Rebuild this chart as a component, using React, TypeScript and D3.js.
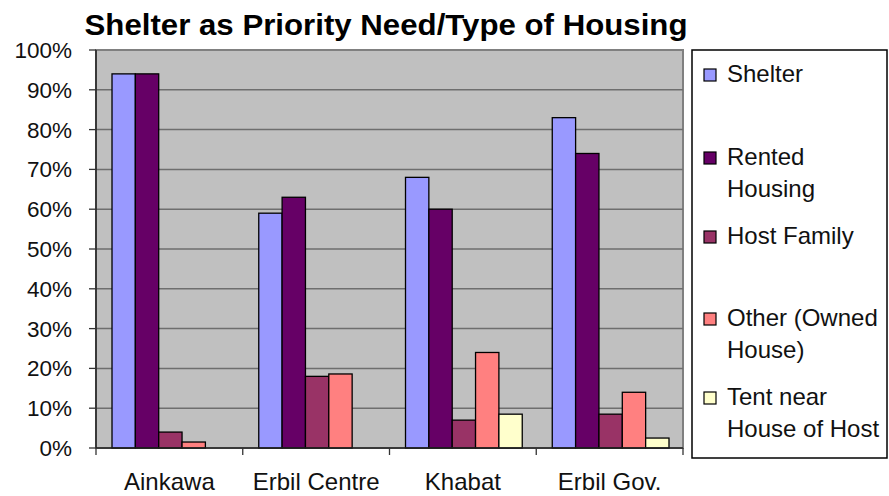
import React from "react";
import * as d3 from "d3";

const categories = ["Ainkawa", "Erbil Centre", "Khabat", "Erbil Gov."];
const seriesNames = ["Shelter", "Rented Housing", "Host Family", "Other (Owned House)", "Tent near House of Host"];
const legendLines = [["Shelter"], ["Rented", "Housing"], ["Host Family"], ["Other (Owned", "House)"], ["Tent near", "House of Host"]];
const seriesColors = ["#9999FF", "#660066", "#993366", "#FF8080", "#FFFFCC"];

// one array per series, in category order (percent)
const shelter = [94, 59, 68, 83];
const rented = [94, 63, 60, 74];
const hostFamily = [4, 18, 7, 8.5];
const otherOwned = [1.5, 18.6, 24, 14];
const tentNearHost = [0, 0, 8.5, 2.5];
const seriesValues = [shelter, rented, hostFamily, otherOwned, tentNearHost];

const yTicks = [0, 10, 20, 30, 40, 50, 60, 70, 80, 90, 100];
const legendY = [75, 158, 237, 319, 398];

const W = 889;
const H = 496;
const plot = { left: 96, right: 683, top: 50, bottom: 448 };
const font = "'Liberation Sans', Arial, sans-serif";

export default function App() {
  const y = d3.scaleLinear().domain([0, 100]).range([plot.bottom, plot.top]);
  const x0 = d3.scaleBand<string>().domain(categories).range([plot.left, plot.right]).padding(0);
  const x1 = d3
    .scaleBand<number>()
    .domain(d3.range(seriesNames.length))
    .range([2, x0.bandwidth()])
    .paddingInner(0)
    .paddingOuter(0.6);

  return (
    <svg width={W} height={H} style={{ position: "absolute", left: 0, top: 0, background: "#fff" }} fontFamily={font}>
      <text x={386} y={35} fontSize={30} fontWeight="bold" textAnchor="middle" textLength={603} lengthAdjust="spacingAndGlyphs">
        Shelter as Priority Need/Type of Housing
      </text>

      {/* plot area */}
      <rect x={plot.left} y={plot.top} width={plot.right - plot.left} height={plot.bottom - plot.top} fill="#C0C0C0" stroke="#808080" strokeWidth={2} />
      {yTicks.slice(1, -1).map((t) => (
        <line key={t} x1={plot.left} x2={plot.right} y1={y(t)} y2={y(t)} stroke="#6e6e6e" strokeWidth={1.5} />
      ))}

      {/* bars */}
      {categories.map((c, ci) => (
        <g key={c} transform={`translate(${x0(c)},0)`}>
          {seriesValues.map((vals, si) =>
            vals[ci] > 0 ? (
              <rect
                key={si}
                x={x1(si)}
                y={y(vals[ci])}
                width={x1.bandwidth()}
                height={y(0) - y(vals[ci])}
                fill={seriesColors[si]}
                stroke="#000"
                strokeWidth={1.3}
              />
            ) : null
          )}
        </g>
      ))}

      {/* axes */}
      <line x1={plot.left} x2={plot.left} y1={plot.top} y2={plot.bottom} stroke="#222" strokeWidth={1.5} />
      <line x1={plot.left} x2={plot.right} y1={plot.bottom} y2={plot.bottom} stroke="#222" strokeWidth={1.5} />
      {yTicks.map((t) => (
        <g key={t}>
          <line x1={plot.left - 7} x2={plot.left} y1={y(t)} y2={y(t)} stroke="#333" strokeWidth={1.3} />
          <text x={72} y={y(t) + 8} fontSize={22.5} textAnchor="end" fill="#111">
            {t}%
          </text>
        </g>
      ))}
      {categories.map((c) => (
        <line key={c} x1={x0(c)!} x2={x0(c)!} y1={plot.bottom} y2={plot.bottom + 7} stroke="#333" strokeWidth={1.3} />
      ))}
      <line x1={plot.right} x2={plot.right} y1={plot.bottom} y2={plot.bottom + 7} stroke="#333" strokeWidth={1.3} />
      {categories.map((c) => (
        <text key={c} x={x0(c)! + x0.bandwidth() / 2} y={490} fontSize={24} textAnchor="middle" fill="#111">
          {c}
        </text>
      ))}

      {/* legend */}
      <rect x={692} y={50} width={195} height={408} fill="#fff" stroke="#000" strokeWidth={1.5} />
      {seriesNames.map((s, i) => (
        <g key={s}>
          <rect x={704} y={legendY[i] - 6} width={12} height={12} fill={seriesColors[i]} stroke="#000" strokeWidth={1.2} />
          {legendLines[i].map((ln, li) => (
            <text key={li} x={727} y={legendY[i] + 7 + li * 32} fontSize={24} fill="#111">
              {ln}
            </text>
          ))}
        </g>
      ))}
    </svg>
  );
}
